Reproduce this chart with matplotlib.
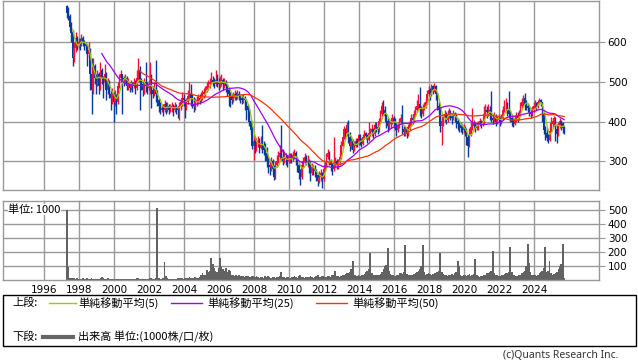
import matplotlib
matplotlib.use("Agg")
import matplotlib.pyplot as plt
from matplotlib.patches import Rectangle
from matplotlib.lines import Line2D
import numpy as np
import pandas as pd

plt.rcParams['font.family'] = ['Noto Sans CJK JP', 'DejaVu Sans']

# ---------------- data (monthly, Apr 1997 - Sep 2025) ----------------
first_month = '1997-04'
first_open = 690

close = [
    675, 665, 640, 625, 560, 585, 610, 595, 600,                    # 1997
    595, 610, 600, 595, 590, 570, 580, 520, 480, 540, 510, 500,     # 1998
    520, 490, 530, 510, 500, 520, 480, 500, 470, 460, 470, 450,     # 1999
    460, 450, 490, 510, 520, 510, 500, 510, 490, 500, 485, 495,     # 2000
    490, 500, 485, 510, 530, 500, 495, 480, 500, 490, 485, 495,     # 2001
    500, 480, 470, 480, 470, 455, 440, 430, 435, 430, 445, 435,     # 2002
    440, 430, 435, 440, 430, 440, 435, 430, 440, 450, 460, 455,     # 2003
    440, 450, 465, 470, 460, 445, 440, 450, 455, 460, 455, 465,     # 2004
    470, 475, 480, 490, 495, 500, 505, 500, 495, 505, 500, 495,     # 2005
    500, 505, 495, 500, 490, 480, 470, 465, 455, 460, 470, 465,     # 2006
    470, 465, 460, 455, 460, 455, 440, 430, 400, 380, 340, 350,     # 2007
    340, 345, 350, 335, 345, 340, 330, 320, 300, 290, 285, 300,     # 2008
    280, 260, 290, 300, 310, 320, 310, 300, 310, 305, 300, 310,     # 2009
    310, 305, 315, 320, 310, 290, 270, 260, 290, 300, 310, 300,     # 2010
    300, 290, 270, 285, 280, 275, 265, 250, 260, 270, 255, 280,     # 2011
    290, 310, 320, 300, 290, 280, 290, 300, 290, 295, 310, 340,     # 2012
    360, 380, 370, 390, 360, 340, 350, 330, 340, 350, 345, 365,     # 2013
    350, 345, 360, 370, 365, 355, 370, 375, 380, 370, 390, 385,     # 2014
    380, 400, 420, 440, 430, 415, 400, 390, 395, 400, 410, 400,     # 2015
    395, 380, 390, 400, 410, 380, 375, 380, 370, 385, 395, 410,     # 2016
    405, 420, 430, 440, 445, 430, 420, 435, 440, 450, 470, 480,     # 2017
    470, 490, 480, 490, 470, 440, 430, 390, 400, 410, 420, 405,     # 2018
    420, 425, 415, 410, 420, 415, 400, 395, 390, 385, 380, 385,     # 2019
    375, 360, 340, 370, 385, 390, 395, 385, 390, 395, 400, 395,     # 2020
    400, 420, 430, 425, 430, 420, 410, 405, 415, 400, 405, 410,     # 2021
    400, 410, 430, 440, 440, 430, 420, 410, 400, 395, 405, 415,     # 2022
    410, 420, 440, 450, 460, 445, 440, 435, 425, 420, 430, 440,     # 2023
    445, 440, 450, 455, 450, 420, 380, 370, 360, 355, 375, 395,     # 2024
    400, 410, 380, 370, 390, 400, 395, 385, 378,                    # 2025
]

high = [
    695, 690, 672, 650, 630, 600, 625, 615, 610,
    610, 620, 615, 605, 600, 595, 600, 585, 560, 560, 545, 520,
    530, 525, 550, 535, 515, 545, 525, 510, 505, 480, 485, 475,
    480, 470, 500, 520, 530, 520, 515, 520, 515, 510, 500, 505,
    500, 510, 505, 530, 560, 540, 510, 500, 510, 550, 500, 505,
    550, 520, 490, 500, 555, 480, 460, 450, 445, 445, 455, 450,
    450, 445, 445, 450, 445, 450, 445, 440, 450, 460, 475, 470,
    455, 460, 480, 500, 495, 470, 462, 460, 465, 470, 470, 475,
    480, 485, 490, 500, 505, 510, 525, 515, 510, 530, 520, 510,
    515, 520, 510, 510, 505, 495, 485, 475, 470, 475, 480, 475,
    480, 478, 470, 468, 470, 465, 458, 445, 432, 405, 390, 370,
    365, 360, 365, 360, 365, 392, 350, 345, 335, 310, 305, 310,
    305, 290, 300, 315, 325, 340, 392, 330, 325, 320, 315, 320,
    320, 320, 325, 330, 325, 312, 295, 280, 300, 310, 320, 315,
    315, 305, 300, 295, 290, 290, 280, 270, 275, 280, 272, 290,
    300, 320, 330, 325, 305, 295, 362, 310, 305, 305, 320, 350,
    365, 390, 385, 400, 404, 375, 365, 355, 350, 360, 360, 370,
    370, 360, 370, 380, 375, 370, 400, 385, 395, 385, 400, 400,
    395, 410, 430, 450, 455, 440, 420, 410, 405, 410, 420, 415,
    410, 400, 400, 410, 420, 442, 390, 390, 385, 395, 405, 420,
    420, 430, 440, 455, 470, 488, 440, 445, 450, 460, 480, 490,
    485, 495, 492, 497, 492, 475, 450, 440, 415, 420, 430, 425,
    430, 435, 430, 420, 430, 425, 420, 410, 400, 400, 395, 395,
    390, 385, 370, 385, 400, 434, 405, 400, 398, 402, 410, 405,
    410, 440, 445, 440, 445, 440, 476, 420, 425, 420, 415, 420,
    415, 420, 440, 455, 460, 450, 476, 430, 420, 410, 415, 425,
    425, 430, 450, 460, 468, 471, 455, 448, 440, 435, 440, 450,
    455, 450, 455, 460, 456, 450, 425, 390, 385, 370, 390, 412,
    410, 415, 412, 395, 400, 408, 405, 400, 390,
]

low = [
    660, 655, 630, 600, 540, 550, 575, 580, 585,
    580, 590, 590, 580, 575, 540, 560, 480, 420, 470, 495, 470,
    490, 470, 480, 495, 460, 490, 455, 470, 460, 430, 445, 400,
    440, 420, 445, 485, 500, 420, 490, 495, 480, 480, 475, 480,
    475, 485, 470, 480, 505, 430, 480, 465, 470, 475, 470, 480,
    470, 435, 460, 465, 450, 440, 425, 420, 425, 415, 425, 420,
    425, 420, 425, 425, 415, 425, 420, 410, 404, 430, 440, 440,
    409, 430, 445, 455, 440, 435, 425, 430, 440, 445, 445, 450,
    455, 460, 465, 475, 480, 485, 495, 490, 485, 490, 488, 480,
    485, 490, 480, 485, 475, 465, 440, 438, 445, 450, 455, 455,
    458, 455, 448, 445, 448, 430, 404, 410, 390, 370, 330, 303,
    320, 325, 335, 320, 330, 321, 315, 300, 285, 270, 265, 275,
    265, 253, 255, 285, 295, 305, 303, 290, 295, 290, 285, 295,
    295, 295, 300, 305, 290, 273, 255, 240, 255, 285, 295, 290,
    285, 270, 250, 265, 265, 260, 250, 238, 245, 250, 233, 250,
    275, 285, 305, 290, 275, 265, 275, 285, 280, 280, 290, 305,
    335, 355, 355, 365, 345, 325, 330, 320, 325, 335, 335, 340,
    340, 335, 340, 355, 355, 345, 350, 365, 365, 360, 365, 375,
    370, 375, 395, 415, 420, 405, 385, 375, 380, 385, 395, 385,
    380, 365, 375, 385, 395, 370, 365, 365, 360, 365, 380, 390,
    395, 400, 415, 425, 430, 415, 410, 415, 430, 435, 445, 465,
    455, 465, 470, 475, 455, 430, 420, 375, 341, 390, 400, 395,
    400, 410, 405, 395, 405, 400, 385, 380, 375, 375, 370, 372,
    365, 340, 312, 335, 365, 380, 380, 375, 378, 380, 388, 385,
    390, 395, 415, 410, 415, 405, 400, 395, 400, 390, 395, 398,
    390, 395, 405, 425, 425, 415, 410, 400, 390, 387, 392, 400,
    400, 405, 415, 435, 440, 430, 430, 425, 415, 410, 415, 425,
    435, 430, 435, 445, 440, 400, 370, 354, 350, 346, 350, 375,
    385, 390, 350, 346, 365, 385, 380, 372, 370,
]

volume = [
    500, 95, 20, 15, 18, 15, 12, 14, 12,
    12, 10, 15, 12, 10, 14, 12, 10, 15, 12, 10, 11,
    10, 12, 18, 22, 15, 12, 10, 14, 12, 10, 9, 11,
    12, 10, 9, 10, 12, 10, 11, 9, 10, 12, 10, 9,
    10, 12, 10, 15, 18, 12, 10, 9, 11, 10, 9, 12,
    20, 15, 10, 12, 14, 520, 18, 12, 10, 14, 130, 30,
    18, 12, 10, 9, 10, 12, 10, 14, 20, 18, 15, 12,
    14, 16, 20, 25, 18, 15, 20, 22, 18, 20, 25, 40,
    50, 35, 40, 74, 60, 70, 161, 120, 86, 70, 60, 90,
    161, 95, 80, 70, 85, 60, 75, 65, 40, 35, 30, 35,
    30, 35, 28, 30, 32, 25, 28, 30, 25, 22, 30, 28,
    25, 30, 22, 20, 25, 22, 20, 28, 25, 30, 22, 20,
    22, 25, 20, 22, 25, 30, 61, 25, 22, 20, 25, 22,
    20, 22, 25, 28, 22, 20, 30, 35, 25, 22, 20, 25,
    22, 25, 30, 22, 20, 25, 28, 35, 25, 22, 30, 28,
    25, 22, 28, 30, 25, 35, 40, 66, 30, 28, 25, 30,
    35, 40, 45, 50, 55, 60, 80, 138, 40, 35, 30, 35,
    30, 35, 40, 45, 60, 70, 80, 197, 50, 40, 35, 40,
    35, 40, 45, 60, 80, 100, 110, 233, 70, 45, 40, 35,
    30, 35, 40, 55, 50, 45, 60, 252, 45, 35, 40, 35,
    40, 45, 50, 60, 70, 80, 100, 252, 60, 40, 45, 50,
    45, 40, 45, 50, 55, 60, 70, 195, 60, 45, 40, 35,
    30, 35, 40, 45, 40, 50, 60, 138, 100, 35, 30, 40,
    35, 30, 40, 45, 30, 40, 45, 152, 40, 30, 25, 30,
    30, 35, 40, 50, 55, 60, 70, 209, 50, 40, 35, 30,
    30, 35, 40, 45, 50, 55, 60, 238, 60, 40, 35, 30,
    30, 35, 40, 50, 60, 70, 100, 257, 126, 60, 40, 35,
    35, 30, 40, 50, 60, 70, 90, 238, 60, 70, 138, 50,
    40, 45, 50, 60, 80, 100, 120, 261, 20,
]

year_ticks = list(range(1996, 2025, 2))
price_ticks = [300, 400, 500, 600]
volume_ticks = [100, 200, 300, 400, 500]
ma_periods = [5, 25, 50]
ma_colors = ['#99cc00', '#a000ff', '#ff3300']

# ---------------- preparation ----------------
n = min(len(close), len(high), len(low), len(volume))
months = pd.period_range(first_month, periods=n, freq='M')
x = np.array([p.year + (p.month - 0.5) / 12 for p in months])
c = np.array(close[:n], dtype=float)
o = np.concatenate([[first_open], c[:-1]])
h = np.maximum(np.array(high[:n], dtype=float), np.maximum(o, c))
l = np.minimum(np.array(low[:n], dtype=float), np.minimum(o, c))
v = np.array(volume[:n], dtype=float)

RED = '#f5103c'
BLUE = '#0a3a9c'
GRID = '#999999'

W, H = 638, 362
fig = plt.figure(figsize=(W / 100, H / 100), dpi=100)

left_px, right_px = 3.3, 598.7
ax1 = fig.add_axes([left_px / W, 1 - 190.3 / H, (right_px - left_px) / W, (190.3 - 1.0) / H])
ax2 = fig.add_axes([left_px / W, 1 - 280.3 / H, (right_px - left_px) / W, (280.3 - 200.5) / H])

xmin, xmax = 1993.66, 2027.68

for ax in (ax1, ax2):
    ax.set_xlim(xmin, xmax)
    ax.set_xticks(year_ticks)
    ax.grid(True, color=GRID, lw=1.0)
    ax.set_axisbelow(True)
    for s in ax.spines.values():
        s.set_color(GRID)
        s.set_linewidth(1.0)
    ax.yaxis.tick_right()
    ax.tick_params(axis='y', which='both', length=4.3, width=0.8, color=GRID,
                   labelsize=7.5, pad=2.2, labelfontfamily='DejaVu Sans')
    ax.tick_params(axis='x', length=0)

# price panel
up = c >= o
colors = np.where(up, RED, BLUE)
ax1.vlines(x, l, h, colors=colors, lw=1.0, zorder=2)
ax1.bar(x, np.abs(c - o) + 0.8, bottom=np.minimum(o, c) - 0.4, width=0.09,
        color=colors, linewidth=0, zorder=2)
s = pd.Series(c)
for p, col in zip(ma_periods, ma_colors):
    ax1.plot(x, s.rolling(p).mean(), color=col, lw=0.9, zorder=3)
ax1.set_ylim(226.9, 704.1)
ax1.set_yticks(price_ticks)
ax1.set_xticklabels([])

# volume panel
ax2.bar(x, v, width=0.095, color='#626262', linewidth=0, zorder=2)
ax2.set_ylim(0, 570)
ax2.set_yticks(volume_ticks)
ax2.set_xticklabels([str(y) for y in year_ticks])
ax2.tick_params(axis='x', labelsize=7.5, pad=3.5, labelfontfamily='DejaVu Sans')
ax2.text(0.008, 0.885, '単位: 1000', transform=ax2.transAxes, fontsize=8,
         va='center', ha='left', zorder=5,
         bbox=dict(facecolor='white', edgecolor='none', pad=0.3))

# legend box
fig.patches.append(Rectangle((3 / W, 1 - 346 / H), 633 / W, 51 / H,
                             transform=fig.transFigure, fill=False,
                             edgecolor='black', lw=1.0))
row1, row2 = 1 - 303 / H, 1 - 336.5 / H
fs = 8
fig.text(12 / W, row1, '上段:', fontsize=fs, va='center')
fig.text(12 / W, row2, '下段:', fontsize=fs, va='center')
legend_items = [(49, 75.5, 78, '単純移動平均(5)'),
                (171, 202, 207, '単純移動平均(25)'),
                (316, 347, 352, '単純移動平均(50)')]
for (x0, x1, xt, lab), col in zip(legend_items, ma_colors):
    fig.lines.append(Line2D([x0 / W, x1 / W], [row1, row1], transform=fig.transFigure,
                            color=col, lw=1.0))
    fig.text(xt / W, row1, lab, fontsize=fs, va='center')
fig.lines.append(Line2D([43 / W, 73 / W], [row2, row2], transform=fig.transFigure,
                        color='#666666', lw=3.0))
fig.text(78 / W, row2, '出来高 単位:(1000株/口/枚)', fontsize=fs, va='center')

fig.text(618 / W, 1 - 356 / H, '(c)Quants Research Inc.', fontsize=7.5,
         ha='right', va='center', color='#333333', family=['Noto Sans', 'DejaVu Sans'])

fig.savefig('out.png', dpi=100)
